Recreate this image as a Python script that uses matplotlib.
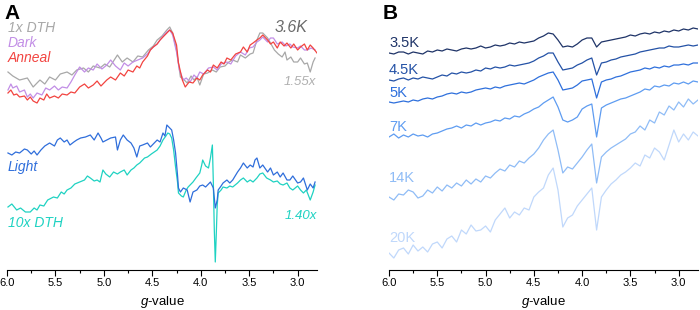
import numpy as np
import matplotlib
matplotlib.use('Agg')
import matplotlib.pyplot as plt
from matplotlib.ticker import MultipleLocator, FormatStrFormatter

plt.rcParams['font.family'] = ['Liberation Sans', 'DejaVu Sans']
plt.rcParams['mathtext.fontset'] = 'custom'
plt.rcParams['mathtext.it'] = 'Liberation Sans:italic'
plt.rcParams['mathtext.rm'] = 'Liberation Sans'

# ---- panel A: (g-value, signal) pairs, arbitrary units ----
dth_1x = [(5.99,198),(5.94,194),(5.87,190),(5.79,192),(5.73,183),(5.66,190),(5.61,186),(5.56,193),
          (5.50,190),(5.45,196),(5.38,198),(5.33,195),(5.28,200),(5.21,202),(5.16,198),(5.11,204),
          (5.04,202),(4.99,206),(4.94,203),(4.86,215),(4.81,208),(4.76,212),(4.70,208),(4.65,214),
          (4.60,213),(4.54,220),(4.49,224),(4.45,230),(4.40,234),(4.35,240),(4.32,243),(4.29,237),
          (4.25,220),(4.21,193),(4.17,190),(4.14,187),(4.10,194),(4.07,190),(4.04,193),(4.01,185),
          (3.97,196),(3.93,197),(3.88,200),(3.84,198),(3.80,203),(3.75,204),(3.71,208),(3.67,210),
          (3.62,208),(3.59,215),(3.54,212),(3.49,216),(3.46,217),(3.42,230),(3.39,237),(3.36,237),
          (3.31,232),(3.28,227),(3.24,220),(3.20,216),(3.16,213),(3.13,218),(3.11,210),(3.07,213),
          (3.04,208),(3.00,208),(2.97,212),(2.93,206),(2.90,207),(2.87,198),(2.84,208),(2.82,212)]

dark = [(5.99,180),(5.96,186),(5.94,182),(5.90,184),(5.87,178),(5.82,180),(5.79,173),(5.76,176),
        (5.73,172),(5.69,177),(5.64,175),(5.60,182),(5.56,180),(5.51,184),(5.47,180),(5.43,183),
        (5.38,182),(5.34,188),(5.30,195),(5.25,203),(5.20,198),(5.16,202),(5.11,200),(5.07,206),
        (5.02,201),(4.97,205),(4.93,210),(4.88,204),(4.83,200),(4.79,207),(4.75,204),(4.70,208),
        (4.65,210),(4.60,212),(4.55,216),(4.52,220),(4.49,223),(4.45,226),(4.42,230),(4.38,235),
        (4.35,238),(4.32,240),(4.29,235),(4.25,218),(4.22,200),(4.18,190),(4.15,192),(4.11,188),
        (4.07,195),(4.04,192),(4.01,198),(3.97,196),(3.92,202),(3.87,203),(3.83,200),(3.79,206),
        (3.73,208),(3.69,206),(3.64,214),(3.59,218),(3.54,215),(3.50,222),(3.46,223),(3.42,228),
        (3.39,230),(3.36,233),(3.31,228),(3.28,232),(3.25,232),(3.21,226),(3.16,228),(3.12,224),
        (3.08,226),(3.05,223),(3.00,222),(2.97,224),(2.93,220),(2.90,220),(2.86,222),(2.82,220)]

anneal = [(5.99,177),(5.96,180),(5.93,175),(5.90,176),(5.87,173),(5.82,174),(5.79,170),(5.76,173),
          (5.73,169),(5.69,167),(5.66,172),(5.62,170),(5.59,176),(5.56,172),(5.51,174),(5.47,172),
          (5.43,176),(5.38,175),(5.34,178),(5.30,177),(5.25,183),(5.20,186),(5.16,182),(5.11,185),
          (5.07,189),(5.03,184),(4.97,190),(4.93,193),(4.88,190),(4.83,197),(4.79,194),(4.75,200),
          (4.70,198),(4.66,204),(4.63,202),(4.60,208),(4.55,214),(4.52,220),(4.49,223),(4.45,226),
          (4.42,230),(4.39,233),(4.35,237),(4.32,240),(4.29,237),(4.25,225),(4.23,207),(4.19,190),
          (4.16,183),(4.12,188),(4.08,187),(4.04,192),(4.01,190),(3.98,195),(3.93,200),(3.90,198),
          (3.87,205),(3.83,202),(3.79,208),(3.76,206),(3.73,212),(3.69,210),(3.64,216),(3.59,218),
          (3.56,223),(3.52,218),(3.49,225),(3.46,227),(3.42,230),(3.39,232),(3.36,235),(3.31,230),
          (3.28,226),(3.25,228),(3.21,222),(3.18,228),(3.14,224),(3.11,227),(3.07,222),(3.04,226),
          (3.00,220),(2.97,223),(2.93,226),(2.90,220),(2.87,225),(2.84,222),(2.80,217)]

light = [(5.99,117),(5.95,115),(5.91,118),(5.87,117),(5.82,121),(5.79,120),(5.75,116),(5.72,119),
         (5.69,115),(5.65,120),(5.61,124),(5.56,127),(5.51,124),(5.48,130),(5.45,132),(5.41,128),
         (5.38,130),(5.35,125),(5.31,128),(5.28,130),(5.24,132),(5.19,133),(5.14,135),(5.10,130),
         (5.06,137),(5.03,132),(5.01,128),(4.97,130),(4.93,132),(4.88,133),(4.86,120),(4.83,130),
         (4.80,135),(4.76,130),(4.72,127),(4.69,122),(4.66,113),(4.63,124),(4.60,125),(4.55,127),
         (4.52,123),(4.49,126),(4.45,130),(4.42,128),(4.39,137),(4.37,134),(4.35,145),(4.32,142),
         (4.30,140),(4.28,130),(4.26,117),(4.24,95),(4.23,82),(4.21,78),(4.18,82),(4.14,80),
         (4.11,68),(4.08,78),(4.04,80),(4.01,84),(3.98,85),(3.95,83),(3.90,88),(3.87,82),
         (3.85,62),(3.83,70),(3.82,80),(3.79,84),(3.77,87),(3.73,90),(3.70,87),(3.67,90),
         (3.62,98),(3.59,102),(3.56,107),(3.52,102),(3.49,105),(3.46,103),(3.44,110),(3.42,112),
         (3.39,102),(3.36,105),(3.31,98),(3.28,102),(3.25,95),(3.21,98),(3.18,93),(3.15,97),
         (3.11,90),(3.08,90),(3.05,94),(3.00,87),(2.97,88),(2.94,92),(2.90,80),(2.87,86),
         (2.84,82),(2.82,88)]

dth_10x = [(5.99,63),(5.95,66),(5.90,60),(5.86,62),(5.81,58),(5.76,58),(5.72,62),(5.69,60),
           (5.66,65),(5.62,64),(5.58,70),(5.52,73),(5.48,72),(5.44,78),(5.41,76),(5.38,80),
           (5.34,82),(5.30,86),(5.25,88),(5.20,90),(5.17,94),(5.14,92),(5.10,89),(5.07,90),
           (5.04,88),(5.01,100),(4.98,96),(4.94,93),(4.90,98),(4.86,96),(4.83,98),(4.79,100),
           (4.76,95),(4.72,100),(4.69,102),(4.66,105),(4.63,107),(4.58,112),(4.55,113),(4.51,116),
           (4.48,118),(4.45,120),(4.42,124),(4.39,130),(4.36,134),(4.34,137),(4.32,136),(4.30,132),
           (4.28,120),(4.26,103),(4.24,88),(4.23,77),(4.20,74),(4.18,73),(4.15,80),(4.13,83),
           (4.10,86),(4.08,88),(4.05,92),(4.01,97),(3.99,105),(3.98,110),(3.95,104),(3.92,102),
           (3.90,112),(3.88,125),(3.87,87),(3.86,40),(3.85,8),(3.84,35),(3.83,65),(3.82,77),
           (3.79,80),(3.77,83),(3.73,82),(3.70,84),(3.67,83),(3.62,87),(3.59,90),(3.56,92),
           (3.52,88),(3.49,90),(3.46,88),(3.42,92),(3.39,96),(3.36,97),(3.32,92),(3.28,90),
           (3.25,88),(3.21,89),(3.18,86),(3.15,85),(3.11,87),(3.08,82),(3.05,80),(3.00,84),
           (2.97,80),(2.94,77),(2.91,80),(2.87,70),(2.84,78),(2.82,85)]

# ---- panel B: one g grid (6.00 -> 2.80, step 0.05), traces offset as in the figure ----
g_b = np.round(np.arange(6.00, 2.79, -0.05), 2)

k3_5 = [217,216,218,218,216,218,217,216,219,218,220,219,221,220,219,221,222,221,222,224,
        222,223,225,224,225,227,226,228,227,228,229,232,234,237,236,230,223,224,223,226,
        230,232,232,223,228,229,230,231,232,233,235,234,236,237,236,238,237,239,238,240,
        239,241,240,242,241]
k4_5 = [190,189,191,192,190,192,191,193,192,191,193,195,194,197,196,198,197,198,200,199,
        202,201,203,202,203,205,204,205,206,207,209,212,214,217,217,208,200,201,202,205,
        207,210,212,195,207,208,210,211,213,214,215,216,218,219,220,221,222,222,224,223,
        223,224,225,224,225]
k5 = [168,167,168,169,168,170,169,171,172,171,173,174,176,177,176,178,177,178,180,181,
      182,181,183,182,184,185,186,187,186,188,190,193,195,197,198,190,180,181,182,185,
      189,190,191,172,188,190,191,193,194,196,198,199,200,202,201,203,202,204,203,205,
      205,206,205,207,207]
k7 = [133,136,132,135,133,136,134,135,133,136,137,139,141,142,144,142,145,144,147,145,
      147,148,150,149,152,151,154,153,156,158,161,163,167,170,173,163,150,148,150,153,
      161,164,166,133,162,165,167,169,171,172,174,176,178,181,180,184,183,185,184,187,
      186,188,186,189,188]
k14 = [73,70,76,75,80,78,72,74,80,77,83,79,85,82,87,84,90,86,91,88,
       94,92,97,101,99,105,103,109,107,112,116,122,130,136,140,120,97,103,101,107,
       113,120,126,87,113,118,122,125,128,131,136,138,144,140,150,147,158,155,164,160,
       168,163,171,166,170]
k20 = [17,12,20,22,16,25,19,23,18,26,28,22,31,34,28,40,36,45,39,40,
       44,38,50,56,62,52,58,55,62,60,73,78,82,95,102,80,43,52,55,64,
       70,76,82,40,73,80,86,90,95,98,102,107,104,115,112,122,118,110,125,140,
       128,136,130,138,134]

temps_b = ['3.5K', '4.5K', '5K', '7K', '14K', '20K']
label_y_b = [227, 200, 177, 143, 92, 32]
colors_b = ['#1f3468', '#2452a6', '#2f70dc', '#5e9cf1', '#8fbcf6', '#c0d8fb']

fig = plt.figure(figsize=(7, 3.1), dpi=100)
ax_a = fig.add_axes([7/700, 40/310, 310/700, 265/310])
ax_b = fig.add_axes([389/700, 40/310, 309/700, 265/310])


def style(ax):
    ax.set_xlim(6.0, 2.8)
    ax.set_ylim(0, 265)
    for s in ['top', 'right', 'left']:
        ax.spines[s].set_visible(False)
    ax.spines['bottom'].set_linewidth(0.8)
    ax.set_yticks([])
    ax.xaxis.set_major_locator(MultipleLocator(0.5))
    ax.xaxis.set_minor_locator(MultipleLocator(0.25))
    ax.xaxis.set_major_formatter(FormatStrFormatter('%.1f'))
    ax.tick_params(axis='x', which='major', length=4, width=0.8, labelsize=8, pad=2)
    ax.tick_params(axis='x', which='minor', length=2.5, width=0.8)
    ax.set_xlabel(r'$g$-value', fontsize=9.5, labelpad=4)


def draw(ax, pairs, color):
    g, y = zip(*pairs)
    ax.plot(g, y, color=color, lw=0.9)


draw(ax_a, dth_1x, '#a8a8a8')
draw(ax_a, dark, '#c28ee6')
draw(ax_a, anneal, '#f24440')
draw(ax_a, dth_10x, '#1fd2c2')
draw(ax_a, light, '#2f6edb')

lab = dict(fontsize=10, style='italic', va='center', ha='left')
ax_a.text(5.99, 242, '1x DTH', color='#a8a8a8', **lab)
ax_a.text(5.99, 227, 'Dark', color='#c28ee6', **lab)
ax_a.text(5.99, 212, 'Anneal', color='#f24440', **lab)
ax_a.text(5.99, 103, 'Light', color='#2f6edb', **lab)
ax_a.text(5.99, 47, '10x DTH', color='#1fd2c2', **lab)
ax_a.text(3.07, 242, '3.6K', color='#6b6b6b', fontsize=11.5, style='italic', ha='center', va='center')
ax_a.text(2.98, 188, '1.55x', color='#b0b0b0', fontsize=9.5, style='italic', ha='center', va='center')
ax_a.text(2.97, 54, '1.40x', color='#1fd2c2', fontsize=9.5, style='italic', ha='center', va='center')
style(ax_a)

for vals, name, ly, c in zip([k3_5, k4_5, k5, k7, k14, k20], temps_b, label_y_b, colors_b):
    ax_b.plot(g_b, vals, color=c, lw=0.9)
    ax_b.text(6.0, ly, name, color=c, fontsize=10.5, ha='left', va='center')
style(ax_b)

fig.text(4/700, 1 - 4/310, 'A', fontsize=15, fontweight='bold', va='top', ha='left')
fig.text(383/700, 1 - 4/310, 'B', fontsize=15, fontweight='bold', va='top', ha='left')

fig.savefig('out.png', dpi=100)
